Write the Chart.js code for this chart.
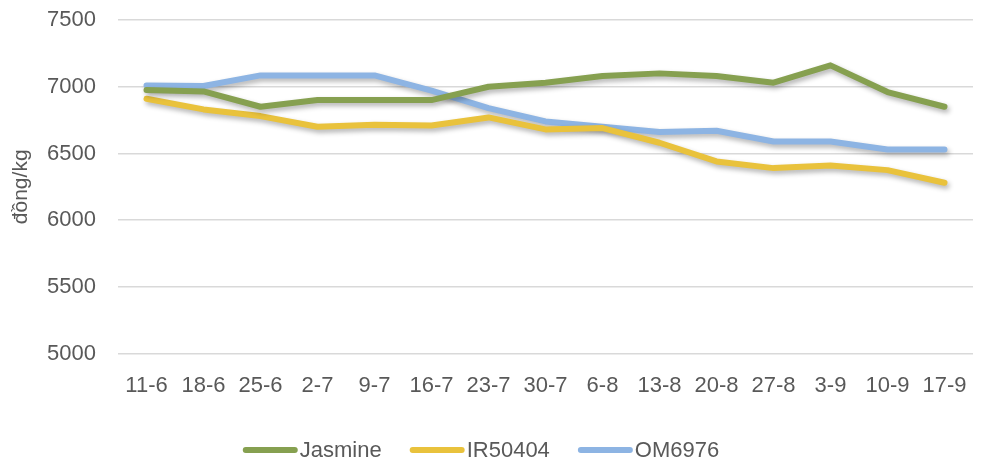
<!DOCTYPE html>
<html>
<head>
<meta charset="utf-8">
<script src="https://cdn.jsdelivr.net/npm/chart.js@4.4.1/dist/chart.umd.min.js"></script>
<style>
  html, body { margin: 0; padding: 0; background: #fff; }
  #wrap { width: 984px; height: 462px; }
</style>
</head>
<body>
<div id="wrap"><canvas id="riceChart"></canvas></div>
<script>
// weekly rice prices
const weeks = ["11-6","18-6","25-6","2-7","9-7","16-7","23-7","30-7","6-8","13-8","20-8","27-8","3-9","10-9","17-9"];
const jasmine = [6975,6965,6850,6900,6900,6900,7000,7030,7080,7100,7080,7030,7160,6960,6850];
const ir50404 = [6910,6830,6780,6700,6715,6710,6770,6680,6690,6580,6440,6390,6410,6375,6280];
const om6976 = [7010,7005,7085,7085,7085,6970,6840,6740,6700,6660,6670,6590,6590,6530,6530];
const yTicks = [5000,5500,6000,6500,7000,7500];

const txt = '#595959';
const fontFam = '"Liberation Sans", Arial, sans-serif';

// soft drop shadow under the lines
const shadowPlugin = {
  id: 'lineShadow',
  beforeDatasetsDraw(chart) {
    const c = chart.ctx;
    c.save();
    c.shadowColor = 'rgba(0,0,0,0.3)';
    c.shadowBlur = 5;
    c.shadowOffsetX = 2;
    c.shadowOffsetY = 3;
  },
  afterDatasetsDraw(chart) {
    chart.ctx.restore();
  }
};

// legend drawn by hand: short rounded line + label, tight gap like Excel
const legendPlugin = {
  id: 'bottomLegend',
  afterDraw(chart) {
    const c = chart.ctx;
    const sets = chart.data.datasets;
    c.save();
    c.font = '22px ' + fontFam;
    c.textBaseline = 'middle';
    c.textAlign = 'left';
    const mark = 55, gap = 2, between = 28, y = 450;
    const widths = sets.map(ds => mark + gap + c.measureText(ds.label).width);
    const total = widths.reduce((a, b) => a + b, 0) + between * (sets.length - 1);
    let x = 481 - total / 2;
    sets.forEach((ds, i) => {
      c.strokeStyle = ds.borderColor;
      c.lineWidth = 6;
      c.lineCap = 'round';
      c.beginPath();
      c.moveTo(x + 3, y);
      c.lineTo(x + mark - 3, y);
      c.stroke();
      c.fillStyle = txt;
      c.fillText(ds.label, x + mark + gap, y + 1);
      x += widths[i] + between;
    });
    c.restore();
  }
};

const mk = (label, data, color) => ({
  label, data,
  borderColor: color,
  backgroundColor: color,
  borderWidth: 6,
  pointRadius: 0,
  tension: 0,
  borderCapStyle: 'round',
  borderJoinStyle: 'round'
});

new Chart(document.getElementById('riceChart').getContext('2d'), {
  type: 'line',
  data: {
    labels: weeks,
    datasets: [
      mk('Jasmine', jasmine, '#86A050'),
      mk('IR50404', ir50404, '#E9C23C'),
      mk('OM6976', om6976, '#8DB4E3')
    ]
  },
  plugins: [shadowPlugin, legendPlugin],
  options: {
    responsive: true,
    maintainAspectRatio: false,
    animation: false,
    layout: { padding: { top: 20, right: 11, left: 0, bottom: 52 } },
    plugins: {
      tooltip: { enabled: false },
      legend: { display: false }
    },
    scales: {
      x: {
        offset: true,
        grid: { display: false },
        border: { display: false },
        ticks: { color: txt, font: { family: fontFam, size: 22 }, padding: 11, maxRotation: 0, autoSkip: false }
      },
      y: {
        min: 5000, max: 7500,
        afterBuildTicks(axis) { axis.ticks = yTicks.map(v => ({ value: v })); },
        afterFit(axis) {
          axis.width = 118;
          axis.paddingTop = 0;
          axis.paddingBottom = 0;
        },
        grid: { color: '#D9D9D9', lineWidth: 1.5, drawTicks: false },
        border: { display: false },
        ticks: { color: txt, font: { family: fontFam, size: 22 }, padding: 22, callback: v => String(v) },
        title: { display: true, text: 'đồng/kg', color: txt, font: { family: fontFam, size: 21 }, padding: 9 }
      }
    }
  }
});
</script>
</body>
</html>
